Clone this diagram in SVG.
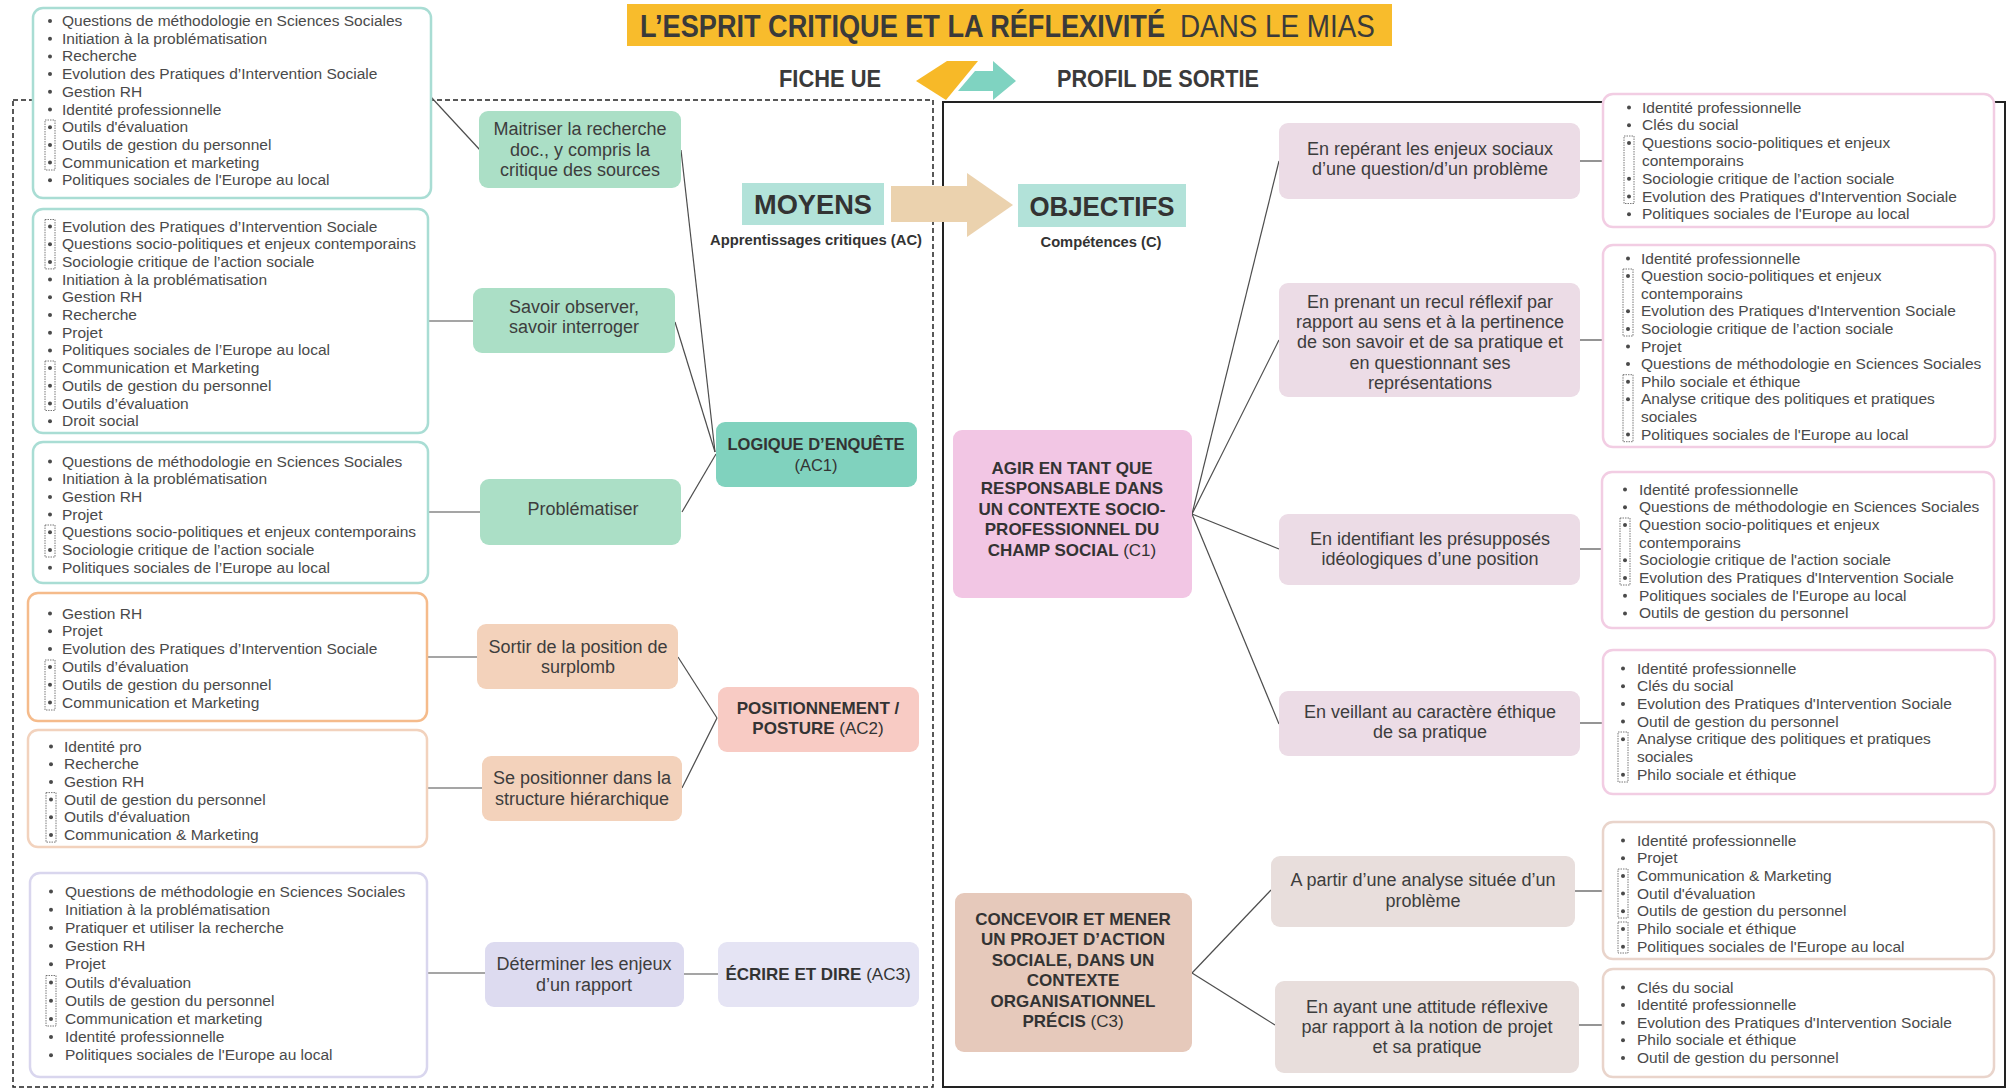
<svg xmlns="http://www.w3.org/2000/svg" width="2011" height="1089" viewBox="0 0 2011 1089">
<style>
text{font-family:"Liberation Sans",Arial,sans-serif}
.lst{font-size:15.5px;fill:#4a4a4a}
.nd{font-size:18px;fill:#3d3d3d;text-anchor:middle}
.nl{font-size:18px;fill:#3d3d3d;text-anchor:middle}
.b{font-weight:bold}
.con{stroke:#4d4d4d;stroke-width:1.2;fill:none}
.dot{fill:none;stroke:#555;stroke-width:0.8;stroke-dasharray:1.5 1}
.bl{fill:#4a4a4a}
.tl{fill:#fff;stroke:#a9ddd4;stroke-width:2.5}
.or{fill:#fff;stroke:#f5bb8b;stroke-width:2.5}
.pc{fill:#fff;stroke:#f2d2bd;stroke-width:2.5}
.lv{fill:#fff;stroke:#d9d6ee;stroke-width:2.5}
.pk{fill:#fff;stroke:#f2cde3;stroke-width:2.5}
.tn{fill:#fff;stroke:#e9d4cb;stroke-width:2.5}
</style>
<rect width="2011" height="1089" fill="#fff"/>

<!-- frames -->
<g id="frames">
<rect x="13" y="100" width="920" height="987" fill="none" stroke="#222" stroke-width="1.5" stroke-dasharray="5 3"/>
<rect x="943" y="102" width="1062" height="985" fill="none" stroke="#222" stroke-width="2"/>
</g>

<!-- header -->
<g id="title">
<rect x="627" y="4" width="765" height="42" fill="#f8bc2c"/>
<text transform="matrix(0.848 0 0 1 640 37)" x="0" y="0" font-size="32" font-weight="bold" fill="#3a3a3a">L’ESPRIT CRITIQUE ET LA RÉFLEXIVITÉ</text>
<text transform="matrix(0.87 0 0 1 1180 37)" x="0" y="0" font-size="32" fill="#3a3a3a">DANS LE MIAS</text>
</g>
<g id="fiche-ue"><text x="779" y="87" font-size="23" font-weight="bold" fill="#3a3a3a" textLength="102" lengthAdjust="spacingAndGlyphs">FICHE UE</text></g>
<g id="profil-sortie"><text x="1057" y="87" font-size="23" font-weight="bold" fill="#3a3a3a" textLength="202" lengthAdjust="spacingAndGlyphs">PROFIL DE SORTIE</text></g>
<g id="double-arrow">
<path d="M916,81 L947,61 L978,61 L946,100 Z" fill="#f7b928"/>
<path d="M958,91 L975,71 L993,71 L993,61 L1016,81 L993,100 L993,91 Z" fill="#7fd3c1"/>
</g>

<!-- connectors -->
<g id="connectors" class="con">
<line x1="431" y1="97" x2="480" y2="150"/>
<line x1="428" y1="321" x2="473" y2="321"/>
<line x1="428" y1="512" x2="480" y2="512"/>
<line x1="427" y1="657" x2="477" y2="657"/>
<line x1="427" y1="788" x2="482" y2="788"/>
<line x1="427" y1="973" x2="485" y2="973"/>
<line x1="681" y1="150" x2="715" y2="452"/>
<line x1="675" y1="322" x2="715" y2="452"/>
<line x1="682" y1="512" x2="716" y2="454"/>
<line x1="678" y1="657" x2="717" y2="718"/>
<line x1="682" y1="788" x2="717" y2="718"/>
<line x1="684" y1="974" x2="718" y2="974"/>
<line x1="1192" y1="514" x2="1279" y2="161"/>
<line x1="1192" y1="514" x2="1279" y2="340"/>
<line x1="1192" y1="514" x2="1279" y2="549"/>
<line x1="1192" y1="514" x2="1279" y2="724"/>
<line x1="1580" y1="161" x2="1603" y2="161"/>
<line x1="1580" y1="340" x2="1603" y2="340"/>
<line x1="1580" y1="549" x2="1603" y2="549"/>
<line x1="1580" y1="723" x2="1603" y2="723"/>
<line x1="1192" y1="973" x2="1271" y2="890"/>
<line x1="1192" y1="973" x2="1275" y2="1025"/>
<line x1="1575" y1="891" x2="1603" y2="891"/>
<line x1="1579" y1="1025" x2="1603" y2="1025"/>
</g>

<!-- big arrow -->
<g id="moyens-objectifs-arrow">
<path d="M891,186 L967,186 L967,173 L1013,205 L967,237 L967,222 L891,222 Z" fill="#ebd2ae"/>
</g>
<g id="moyens">
<rect x="742" y="183" width="142" height="42" fill="#b2e2d9"/>
<text x="813" y="214" font-size="27" font-weight="bold" fill="#333" text-anchor="middle" textLength="118" lengthAdjust="spacingAndGlyphs">MOYENS</text>
<text x="816" y="245" font-size="14" font-weight="bold" fill="#333" text-anchor="middle" textLength="212" lengthAdjust="spacingAndGlyphs">Apprentissages critiques (AC)</text>
</g>
<g id="objectifs">
<rect x="1018" y="184" width="168" height="43" fill="#b2e2d9"/>
<text x="1102" y="216" font-size="28" font-weight="bold" fill="#333" text-anchor="middle" textLength="145" lengthAdjust="spacingAndGlyphs">OBJECTIFS</text>
<text x="1101" y="247" font-size="14.5" font-weight="bold" fill="#333" text-anchor="middle" textLength="121" lengthAdjust="spacingAndGlyphs">Compétences (C)</text>
</g>

<!-- left lists -->
<g id="list-ac1a">
<rect class="tl" x="33" y="8" width="398" height="190" rx="10"/>
<g class="bl"><circle cx="50" cy="21" r="2"/><circle cx="50" cy="38.7" r="2"/><circle cx="50" cy="56.4" r="2"/><circle cx="50" cy="74.1" r="2"/><circle cx="50" cy="91.8" r="2"/><circle cx="50" cy="109.5" r="2"/><circle cx="50" cy="127.2" r="2"/><circle cx="50" cy="144.9" r="2"/><circle cx="50" cy="162.6" r="2"/><circle cx="50" cy="180.3" r="2"/></g>
<rect class="dot" x="45" y="120" width="10" height="50"/>
<text class="lst"><tspan x="62" y="26">Questions de méthodologie en Sciences Sociales</tspan><tspan x="62" y="43.7">Initiation à la problématisation</tspan><tspan x="62" y="61.4">Recherche</tspan><tspan x="62" y="79.1">Evolution des Pratiques d’Intervention Sociale</tspan><tspan x="62" y="96.8">Gestion RH</tspan><tspan x="62" y="114.5">Identité professionnelle</tspan><tspan x="62" y="132.2">Outils d'évaluation</tspan><tspan x="62" y="149.9">Outils de gestion du personnel</tspan><tspan x="62" y="167.6">Communication et marketing</tspan><tspan x="62" y="185.3">Politiques sociales de l'Europe au local</tspan></text>
</g>

<g id="list-ac1b">
<rect class="tl" x="33" y="209" width="395" height="224" rx="10"/>
<g class="bl"><circle cx="50" cy="226.5" r="2"/><circle cx="50" cy="244.2" r="2"/><circle cx="50" cy="261.9" r="2"/><circle cx="50" cy="279.6" r="2"/><circle cx="50" cy="297.3" r="2"/><circle cx="50" cy="315" r="2"/><circle cx="50" cy="332.7" r="2"/><circle cx="50" cy="350.4" r="2"/><circle cx="50" cy="368.1" r="2"/><circle cx="50" cy="385.8" r="2"/><circle cx="50" cy="403.5" r="2"/><circle cx="50" cy="421.2" r="2"/></g>
<rect class="dot" x="45" y="219.5" width="10" height="49.4"/>
<rect class="dot" x="45" y="361" width="10" height="49.5"/>
<text class="lst"><tspan x="62" y="231.5">Evolution des Pratiques d’Intervention Sociale</tspan><tspan x="62" y="249.2">Questions socio-politiques et enjeux contemporains</tspan><tspan x="62" y="266.9">Sociologie critique de l’action sociale</tspan><tspan x="62" y="284.6">Initiation à la problématisation</tspan><tspan x="62" y="302.3">Gestion RH</tspan><tspan x="62" y="320">Recherche</tspan><tspan x="62" y="337.7">Projet</tspan><tspan x="62" y="355.4">Politiques sociales de l’Europe au local</tspan><tspan x="62" y="373.1">Communication et Marketing</tspan><tspan x="62" y="390.8">Outils de gestion du personnel</tspan><tspan x="62" y="408.5">Outils d’évaluation</tspan><tspan x="62" y="426.2">Droit social</tspan></text>
</g>

<g id="list-ac1c">
<rect class="tl" x="33" y="442" width="395" height="141" rx="10"/>
<g class="bl"><circle cx="50" cy="461.5" r="2"/><circle cx="50" cy="479.2" r="2"/><circle cx="50" cy="496.9" r="2"/><circle cx="50" cy="514.6" r="2"/><circle cx="50" cy="532.3" r="2"/><circle cx="50" cy="550" r="2"/><circle cx="50" cy="567.7" r="2"/></g>
<rect class="dot" x="45" y="525" width="10" height="32"/>
<text class="lst"><tspan x="62" y="466.5">Questions de méthodologie en Sciences Sociales</tspan><tspan x="62" y="484.2">Initiation à la problématisation</tspan><tspan x="62" y="501.9">Gestion RH</tspan><tspan x="62" y="519.6">Projet</tspan><tspan x="62" y="537.3">Questions socio-politiques et enjeux contemporains</tspan><tspan x="62" y="555">Sociologie critique de l’action sociale</tspan><tspan x="62" y="572.7">Politiques sociales de l’Europe au local</tspan></text>
</g>

<g id="list-ac2a">
<rect class="or" x="28" y="593" width="399" height="128" rx="10"/>
<g class="bl"><circle cx="50" cy="613.5" r="2"/><circle cx="50" cy="631.3" r="2"/><circle cx="50" cy="649.1" r="2"/><circle cx="50" cy="666.9" r="2"/><circle cx="50" cy="684.7" r="2"/><circle cx="50" cy="702.5" r="2"/></g>
<rect class="dot" x="45" y="660" width="10" height="50"/>
<text class="lst"><tspan x="62" y="618.5">Gestion RH</tspan><tspan x="62" y="636.3">Projet</tspan><tspan x="62" y="654.1">Evolution des Pratiques d’Intervention Sociale</tspan><tspan x="62" y="671.9">Outils d’évaluation</tspan><tspan x="62" y="689.7">Outils de gestion du personnel</tspan><tspan x="62" y="707.5">Communication et Marketing</tspan></text>
</g>

<g id="list-ac2b">
<rect class="pc" x="28" y="730" width="399" height="117" rx="10"/>
<g class="bl"><circle cx="51" cy="746.5" r="2"/><circle cx="51" cy="764.2" r="2"/><circle cx="51" cy="781.9" r="2"/><circle cx="51" cy="799.6" r="2"/><circle cx="51" cy="817.3" r="2"/><circle cx="51" cy="835" r="2"/></g>
<rect class="dot" x="46" y="792.6" width="10" height="49.5"/>
<text class="lst"><tspan x="64" y="751.5">Identité pro</tspan><tspan x="64" y="769.2">Recherche</tspan><tspan x="64" y="786.9">Gestion RH</tspan><tspan x="64" y="804.6">Outil de gestion du personnel</tspan><tspan x="64" y="822.3">Outils d'évaluation</tspan><tspan x="64" y="840">Communication &amp; Marketing</tspan></text>
</g>

<g id="list-ac3">
<rect class="lv" x="30" y="873" width="397" height="204" rx="10"/>
<g class="bl"><circle cx="51" cy="891.5" r="2"/><circle cx="51" cy="909.7" r="2"/><circle cx="51" cy="927.9" r="2"/><circle cx="51" cy="946.1" r="2"/><circle cx="51" cy="964.3" r="2"/><circle cx="51" cy="982.5" r="2"/><circle cx="51" cy="1000.7" r="2"/><circle cx="51" cy="1018.9" r="2"/><circle cx="51" cy="1037.1" r="2"/><circle cx="51" cy="1055.3" r="2"/></g>
<rect class="dot" x="46" y="975.5" width="10" height="50.5"/>
<text class="lst"><tspan x="65" y="896.5">Questions de méthodologie en Sciences Sociales</tspan><tspan x="65" y="914.7">Initiation à la problématisation</tspan><tspan x="65" y="932.9">Pratiquer et utiliser la recherche</tspan><tspan x="65" y="951.1">Gestion RH</tspan><tspan x="65" y="969.3">Projet</tspan><tspan x="65" y="987.5">Outils d'évaluation</tspan><tspan x="65" y="1005.7">Outils de gestion du personnel</tspan><tspan x="65" y="1023.9">Communication et marketing</tspan><tspan x="65" y="1042.1">Identité professionnelle</tspan><tspan x="65" y="1060.3">Politiques sociales de l'Europe au local</tspan></text>
</g>

<!-- AC nodes -->
<g id="maitriser">
<rect x="479" y="111" width="202" height="77" rx="9" fill="#abdfc6"/>
<text class="nl"><tspan x="580" y="135">Maitriser la recherche</tspan><tspan x="580" y="156">doc., y compris la</tspan><tspan x="580" y="176">critique des sources</tspan></text>
</g>
<g id="savoir-observer">
<rect x="473" y="288" width="202" height="65" rx="9" fill="#abdfc6"/>
<text class="nl"><tspan x="574" y="313">Savoir observer,</tspan><tspan x="574" y="333">savoir interroger</tspan></text>
</g>
<g id="problematiser">
<rect x="480" y="479" width="201" height="66" rx="9" fill="#abdfc6"/>
<text class="nl"><tspan x="583" y="515">Problématiser</tspan></text>
</g>
<g id="ac1">
<rect x="716" y="422" width="201" height="65" rx="9" fill="#80d2be"/>
<text x="816" y="450" font-size="16.5" fill="#333" text-anchor="middle" font-weight="bold">LOGIQUE  D’ENQUÊTE</text>
<text x="816" y="471" font-size="16.5" fill="#333" text-anchor="middle">(AC1)</text>
</g>
<g id="sortir">
<rect x="477" y="624" width="201" height="65" rx="9" fill="#f3d2bb"/>
<text class="nl"><tspan x="578" y="653">Sortir de la position de</tspan><tspan x="578" y="673">surplomb</tspan></text>
</g>
<g id="se-positionner">
<rect x="482" y="756" width="200" height="65" rx="9" fill="#f3d2bb"/>
<text class="nl"><tspan x="582" y="784">Se positionner dans la</tspan><tspan x="582" y="805">structure hiérarchique</tspan></text>
</g>
<g id="ac2">
<rect x="718" y="687" width="201" height="65" rx="9" fill="#f8cbc4"/>
<text x="818" y="714" font-size="17" fill="#333" text-anchor="middle" font-weight="bold">POSITIONNEMENT /</text>
<text x="818" y="734" font-size="17" fill="#333" text-anchor="middle"><tspan font-weight="bold">POSTURE</tspan> (AC2)</text>
</g>
<g id="determiner">
<rect x="485" y="942" width="199" height="65" rx="9" fill="#dddbf0"/>
<text class="nl"><tspan x="584" y="970">Déterminer les enjeux</tspan><tspan x="584" y="991">d’un rapport</tspan></text>
</g>
<g id="ac3">
<rect x="718" y="942" width="201" height="65" rx="9" fill="#e5e4f4"/>
<text x="818" y="980" font-size="17" fill="#333" text-anchor="middle"><tspan font-weight="bold">ÉCRIRE  ET DIRE</tspan> (AC3)</text>
</g>

<!-- competence nodes -->
<g id="c1">
<rect x="953" y="430" width="239" height="168" rx="9" fill="#f2c6e4"/>
<text font-size="17" fill="#333" text-anchor="middle" font-weight="bold"><tspan x="1072" y="474">AGIR EN TANT QUE</tspan><tspan x="1072" y="494">RESPONSABLE DANS</tspan><tspan x="1072" y="515">UN CONTEXTE SOCIO-</tspan><tspan x="1072" y="535">PROFESSIONNEL DU</tspan><tspan x="1072" y="556">CHAMP SOCIAL <tspan font-weight="normal">(C1)</tspan></tspan></text>
</g>
<g id="c3">
<rect x="955" y="893" width="237" height="159" rx="9" fill="#e6c9bb"/>
<text font-size="17" fill="#333" text-anchor="middle" font-weight="bold"><tspan x="1073" y="925">CONCEVOIR ET MENER</tspan><tspan x="1073" y="945">UN PROJET D’ACTION</tspan><tspan x="1073" y="966">SOCIALE, DANS UN</tspan><tspan x="1073" y="986">CONTEXTE</tspan><tspan x="1073" y="1007">ORGANISATIONNEL</tspan><tspan x="1073" y="1027">PRÉCIS <tspan font-weight="normal">(C3)</tspan></tspan></text>
</g>
<g id="enjeux-sociaux">
<rect x="1279" y="123" width="301" height="76" rx="9" fill="#ecdce6"/>
<text class="nd"><tspan x="1430" y="155">En repérant les enjeux sociaux</tspan><tspan x="1430" y="175">d’une question/d’un problème</tspan></text>
</g>
<g id="recul-reflexif">
<rect x="1279" y="283" width="301" height="114" rx="9" fill="#ecdce6"/>
<text class="nd"><tspan x="1430" y="308">En prenant un recul réflexif par</tspan><tspan x="1430" y="328">rapport au sens et à la pertinence</tspan><tspan x="1430" y="348">de son savoir et de sa pratique et</tspan><tspan x="1430" y="369">en questionnant ses</tspan><tspan x="1430" y="389">représentations</tspan></text>
</g>
<g id="presupposes">
<rect x="1279" y="514" width="301" height="71" rx="9" fill="#ecdce6"/>
<text class="nd"><tspan x="1430" y="545">En identifiant les présupposés</tspan><tspan x="1430" y="565">idéologiques d’une position</tspan></text>
</g>
<g id="ethique">
<rect x="1279" y="691" width="301" height="65" rx="9" fill="#ecdce6"/>
<text class="nd"><tspan x="1430" y="718">En veillant au caractère éthique</tspan><tspan x="1430" y="738">de sa pratique</tspan></text>
</g>
<g id="analyse-situee">
<rect x="1271" y="856" width="304" height="71" rx="9" fill="#e8dedc"/>
<text class="nd"><tspan x="1423" y="886">A partir d’une analyse située d’un</tspan><tspan x="1423" y="907">problème</tspan></text>
</g>
<g id="attitude-reflexive">
<rect x="1275" y="981" width="304" height="92" rx="9" fill="#e8dedc"/>
<text class="nd"><tspan x="1427" y="1013">En ayant une attitude réflexive</tspan><tspan x="1427" y="1033">par rapport à la notion de projet</tspan><tspan x="1427" y="1053">et sa pratique</tspan></text>
</g>

<!-- right lists -->
<g id="list-c1a">
<rect class="pk" x="1603" y="94" width="391" height="133" rx="10"/>
<g class="bl"><circle cx="1629" cy="107.5" r="2"/><circle cx="1629" cy="125.3" r="2"/><circle cx="1629" cy="143.1" r="2"/><circle cx="1629" cy="178.7" r="2"/><circle cx="1629" cy="196.5" r="2"/><circle cx="1629" cy="214.3" r="2"/></g>
<rect class="dot" x="1624" y="136" width="10" height="67.5"/>
<text class="lst"><tspan x="1642" y="112.5">Identité professionnelle</tspan><tspan x="1642" y="130.3">Clés du social</tspan><tspan x="1642" y="148.1">Questions socio-politiques et enjeux</tspan><tspan x="1642" y="165.9">contemporains</tspan><tspan x="1642" y="183.7">Sociologie critique de l’action sociale</tspan><tspan x="1642" y="201.5">Evolution des Pratiques d'Intervention Sociale</tspan><tspan x="1642" y="219.3">Politiques sociales de l'Europe au local</tspan></text>
</g>

<g id="list-c1b">
<rect class="pk" x="1603" y="245" width="392" height="202" rx="10"/>
<g class="bl"><circle cx="1628" cy="258.5" r="2"/><circle cx="1628" cy="276.1" r="2"/><circle cx="1628" cy="311.3" r="2"/><circle cx="1628" cy="328.9" r="2"/><circle cx="1628" cy="346.5" r="2"/><circle cx="1628" cy="364.1" r="2"/><circle cx="1628" cy="381.7" r="2"/><circle cx="1628" cy="399.3" r="2"/><circle cx="1628" cy="434.5" r="2"/></g>
<rect class="dot" x="1623" y="269" width="10" height="67"/>
<rect class="dot" x="1623" y="374.7" width="10" height="67"/>
<text class="lst"><tspan x="1641" y="263.5">Identité professionnelle</tspan><tspan x="1641" y="281.1">Question socio-politiques et enjeux</tspan><tspan x="1641" y="298.7">contemporains</tspan><tspan x="1641" y="316.3">Evolution des Pratiques d'Intervention Sociale</tspan><tspan x="1641" y="333.9">Sociologie critique de l’action sociale</tspan><tspan x="1641" y="351.5">Projet</tspan><tspan x="1641" y="369.1">Questions de méthodologie en Sciences Sociales</tspan><tspan x="1641" y="386.7">Philo sociale et éthique</tspan><tspan x="1641" y="404.3">Analyse critique des politiques et pratiques</tspan><tspan x="1641" y="421.9">sociales</tspan><tspan x="1641" y="439.5">Politiques sociales de l'Europe au local</tspan></text>
</g>

<g id="list-c1c">
<rect class="pk" x="1602" y="472" width="392" height="156" rx="10"/>
<g class="bl"><circle cx="1625" cy="489.5" r="2"/><circle cx="1625" cy="507.2" r="2"/><circle cx="1625" cy="524.9" r="2"/><circle cx="1625" cy="560.3" r="2"/><circle cx="1625" cy="578" r="2"/><circle cx="1625" cy="595.7" r="2"/><circle cx="1625" cy="613.4" r="2"/></g>
<rect class="dot" x="1620" y="518" width="10" height="67"/>
<text class="lst"><tspan x="1639" y="494.5">Identité professionnelle</tspan><tspan x="1639" y="512.2">Questions de méthodologie en Sciences Sociales</tspan><tspan x="1639" y="529.9">Question socio-politiques et enjeux</tspan><tspan x="1639" y="547.6">contemporains</tspan><tspan x="1639" y="565.3">Sociologie critique de l'action sociale</tspan><tspan x="1639" y="583">Evolution des Pratiques d'Intervention Sociale</tspan><tspan x="1639" y="600.7">Politiques sociales de l'Europe au local</tspan><tspan x="1639" y="618.4">Outils de gestion du personnel</tspan></text>
</g>

<g id="list-c1d">
<rect class="pk" x="1603" y="650" width="392" height="144" rx="10"/>
<g class="bl"><circle cx="1623" cy="668.5" r="2"/><circle cx="1623" cy="686.2" r="2"/><circle cx="1623" cy="703.9" r="2"/><circle cx="1623" cy="721.6" r="2"/><circle cx="1623" cy="739.3" r="2"/><circle cx="1623" cy="774.7" r="2"/></g>
<rect class="dot" x="1618" y="732" width="10" height="50"/>
<text class="lst"><tspan x="1637" y="673.5">Identité professionnelle</tspan><tspan x="1637" y="691.2">Clés du social</tspan><tspan x="1637" y="708.9">Evolution des Pratiques d'Intervention Sociale</tspan><tspan x="1637" y="726.6">Outil de gestion du personnel</tspan><tspan x="1637" y="744.3">Analyse critique des politiques et pratiques</tspan><tspan x="1637" y="762">sociales</tspan><tspan x="1637" y="779.7">Philo sociale et éthique</tspan></text>
</g>

<g id="list-c3a">
<rect class="tn" x="1603" y="822" width="391" height="137" rx="10"/>
<g class="bl"><circle cx="1623" cy="840.5" r="2"/><circle cx="1623" cy="858.2" r="2"/><circle cx="1623" cy="875.9" r="2"/><circle cx="1623" cy="893.6" r="2"/><circle cx="1623" cy="911.3" r="2"/><circle cx="1623" cy="929" r="2"/><circle cx="1623" cy="946.7" r="2"/></g>
<rect class="dot" x="1618" y="869" width="10" height="49"/>
<rect class="dot" x="1618" y="922" width="10" height="31"/>
<text class="lst"><tspan x="1637" y="845.5">Identité professionnelle</tspan><tspan x="1637" y="863.2">Projet</tspan><tspan x="1637" y="880.9">Communication &amp; Marketing</tspan><tspan x="1637" y="898.6">Outil d'évaluation</tspan><tspan x="1637" y="916.3">Outils de gestion du personnel</tspan><tspan x="1637" y="934">Philo sociale et éthique</tspan><tspan x="1637" y="951.7">Politiques sociales de l'Europe au local</tspan></text>
</g>

<g id="list-c3b">
<rect class="tn" x="1603" y="969" width="391" height="108" rx="10"/>
<g class="bl"><circle cx="1623" cy="987.5" r="2"/><circle cx="1623" cy="1005.1" r="2"/><circle cx="1623" cy="1022.7" r="2"/><circle cx="1623" cy="1040.3" r="2"/><circle cx="1623" cy="1057.9" r="2"/></g>
<text class="lst"><tspan x="1637" y="992.5">Clés du social</tspan><tspan x="1637" y="1010.1">Identité professionnelle</tspan><tspan x="1637" y="1027.7">Evolution des Pratiques d'Intervention Sociale</tspan><tspan x="1637" y="1045.3">Philo sociale et éthique</tspan><tspan x="1637" y="1062.9">Outil de gestion du personnel</tspan></text>
</g>
</svg>
